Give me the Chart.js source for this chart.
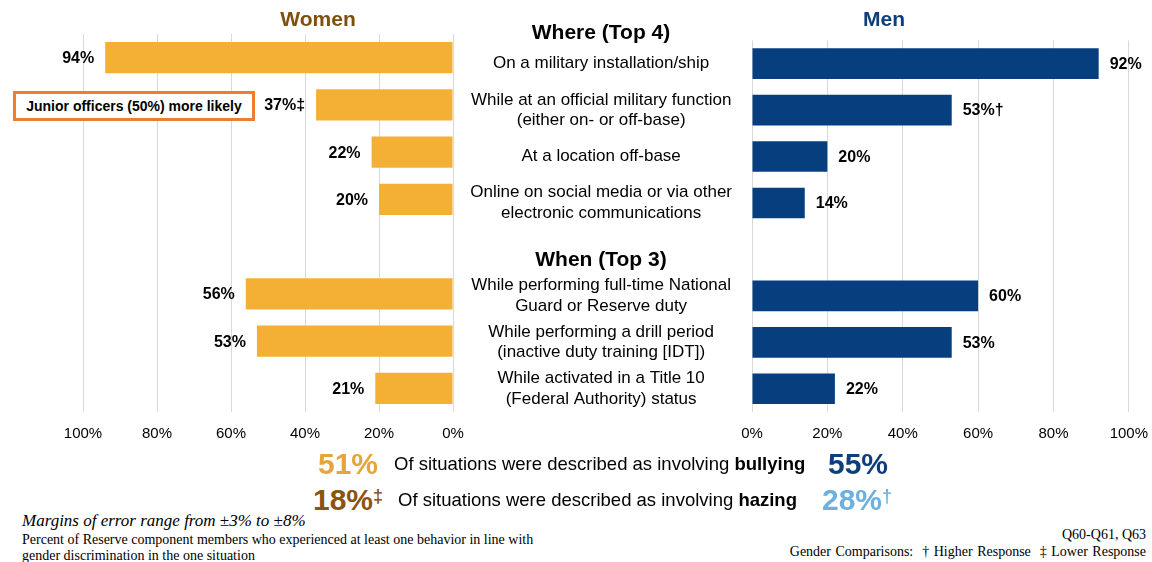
<!DOCTYPE html>
<html>
<head>
<meta charset="utf-8">
<script src="https://cdn.jsdelivr.net/npm/chart.js"></script>
<style>
  body { margin: 0; background: #fff; font-family: "Liberation Sans", Arial, sans-serif; }
  #page { position: relative; width: 1152px; height: 562px; overflow: hidden; }
  .abs { position: absolute; white-space: nowrap; line-height: 1; }
  .mid { transform: translate(-50%, -50%); }
  .vmid { transform: translateY(-50%); }
  .head { font-weight: bold; font-size: 21px; }
  .big { font-weight: bold; font-size: 30px; }
  .sit { font-size: 18.5px; color: #000; }
  .serif { font-family: "Liberation Serif", "Times New Roman", serif; color: #000; }
  #women { position: absolute; left: 0; top: 0; }
  #men { position: absolute; left: 455px; top: 0; }
  .note { position: absolute; left: 13px; top: 91px; width: 236px; height: 24px; border: 3px solid #ED7D31;
          font-weight: bold; font-size: 14px; line-height: 24px; text-align: center; background: #fff; }
  sup { font-size: 60%; vertical-align: top; position: relative; top: 2px; }
</style>
</head>
<body>
<div id="page">
  <canvas id="women" width="470" height="456"></canvas>
  <!-- wider than the page: the x labels' own padding keeps 100% off the edge -->
  <canvas id="men" width="706" height="456"></canvas>

  <div class="abs mid head" style="left:318px; top:18px; color:#7F4F0C;">Women</div>
  <div class="abs mid head" style="left:884px; top:18px; color:#0E3F7A;">Men</div>
  <div class="abs mid head" style="left:601px; top:31px;">Where (Top 4)</div>
  <div class="abs mid head" style="left:601px; top:258px;">When (Top 3)</div>

  <div class="note">Junior officers (50%) more likely</div>

  <div class="abs vmid big" style="left:318px; top:464px; color:#E5A53C;">51%</div>
  <div class="abs vmid sit" style="left:394px; top:464px;">Of situations were described as involving <b>bullying</b></div>
  <div class="abs vmid big" style="left:828px; top:464px; color:#0D3F7C;">55%</div>

  <div class="abs vmid big" style="left:313px; top:500px; color:#8A5412;">18%<sup>‡</sup></div>
  <div class="abs vmid sit" style="left:398px; top:500px;">Of situations were described as involving <b>hazing</b></div>
  <div class="abs vmid big" style="left:822px; top:500px; color:#6DB0DF;">28%<sup>†</sup></div>

  <div class="abs serif" style="left:22px; top:512px; font-size:17px; font-style:italic;">Margins of error range from ±3% to ±8%</div>
  <div class="abs serif" style="left:22px; top:533px; font-size:14px;">Percent of Reserve component members who experienced at least one behavior in line with</div>
  <div class="abs serif" style="left:22px; top:549px; font-size:14px;">gender discrimination in the one situation</div>
  <div class="abs serif" style="right:6px; top:528px; font-size:14px;">Q60-Q61, Q63</div>
  <div class="abs serif" style="right:6px; top:545px; font-size:14px; word-spacing:1px;">Gender Comparisons: &nbsp;† Higher Response &nbsp;‡ Lower Response</div>
</div>

<script>
// categories (the empty slot separates "Where" from "When")
const categories = [
  "On a military installation/ship",
  ["While at an official military function", "(either on- or off-base)"],
  "At a location off-base",
  ["Online on social media or via other", "electronic communications"],
  "",
  ["While performing full-time National", "Guard or Reserve duty"],
  ["While performing a drill period", "(inactive duty training [IDT])"],
  ["While activated in a Title 10", "(Federal Authority) status"]
];
const womenValues = [94, 37, 22, 20, null, 56, 53, 21];
const menValues = [92, 53, 20, 14, null, 60, 53, 22];
const womenMarks = ["", "‡", "", "", "", "", "", ""];
const menMarks = ["", "†", "", "", "", "", "", ""];
const xTicks = [0, 20, 40, 60, 80, 100];

const FONT = '"Liberation Sans", Arial, sans-serif';
const gridColor = "#d9d9d9";

// value labels at the end of each bar
function barLabels(marks, side) {
  return {
    id: "barLabels",
    afterDatasetsDraw(chart) {
      const ctx = chart.ctx;
      const meta = chart.getDatasetMeta(0);
      ctx.save();
      ctx.font = "bold 16px " + FONT;
      ctx.fillStyle = "#000";
      ctx.textBaseline = "middle";
      ctx.textAlign = side;
      meta.data.forEach(function (bar, i) {
        const v = chart.data.datasets[0].data[i];
        if (v == null) return;
        const x = side === "right" ? bar.x - 11 : bar.x + 11;
        ctx.fillText(v + "%" + marks[i], x, bar.y + 1);
      });
      ctx.restore();
    }
  };
}

function xScale(reverse) {
  return {
    min: 0,
    max: 100,
    reverse: reverse,
    afterBuildTicks: function (scale) {
      scale.ticks = xTicks.map((v) => ({ value: v }));
    },
    grid: { color: gridColor, drawTicks: false },
    border: { display: false },
    ticks: {
      padding: 13,
      color: "#000",
      font: { family: FONT, size: 15 },
      callback: (v) => v + "%"
    }
  };
}

new Chart(document.getElementById("women"), {
  type: "bar",
  data: {
    labels: categories,
    datasets: [{
      data: womenValues,
      backgroundColor: "#F4B035",
      categoryPercentage: 1,
      barPercentage: 0.66
    }]
  },
  options: {
    indexAxis: "y",
    responsive: false,
    animation: false,
    layout: { padding: { left: 83, right: 17, top: 34, bottom: 0 } },
    plugins: { legend: { display: false }, tooltip: { enabled: false } },
    scales: {
      x: xScale(true),
      y: { display: false }
    }
  },
  plugins: [barLabels(womenMarks, "right")]
});

new Chart(document.getElementById("men"), {
  type: "bar",
  data: {
    labels: categories,
    datasets: [{
      data: menValues,
      backgroundColor: "#073F7E",
      categoryPercentage: 1,
      barPercentage: 0.66
    }]
  },
  options: {
    indexAxis: "y",
    responsive: false,
    animation: false,
    layout: { padding: { left: 0, right: 0, top: 34, bottom: 0 } },
    plugins: { legend: { display: false }, tooltip: { enabled: false } },
    scales: {
      x: xScale(false),
      y: {
        afterFit: function (scale) { scale.width = 297; },
        grid: { display: false, drawTicks: false },
        border: { display: false },
        ticks: {
          crossAlign: "center",
          padding: 20,
          color: "#000",
          font: { family: FONT, size: 17, lineHeight: 1.2 }
        }
      }
    }
  },
  plugins: [barLabels(menMarks, "left")]
});
</script>
</body>
</html>
